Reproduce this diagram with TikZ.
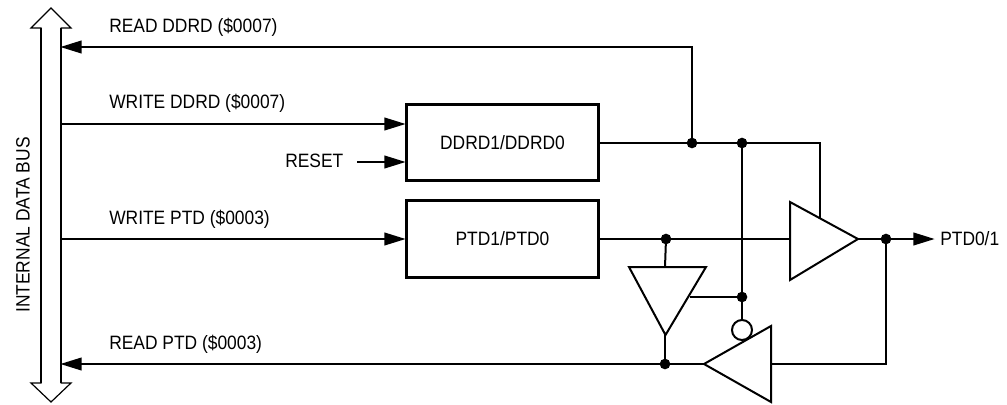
\documentclass[tikz,border=0pt]{standalone}
\usepackage{fontspec}
\setmainfont[FakeStretch=0.9]{Liberation Sans}
\usetikzlibrary{arrows.meta}
\tikzset{
  wire/.style={line width=1.5pt,line join=miter},
  sig/.style={wire,-{Triangle[length=16pt,width=9.5pt]},shorten >=-0.5pt},
  thick box/.style={draw,line width=2.2pt,minimum width=144.5pt,minimum height=57.3pt,inner sep=0pt,font=\lab},
  gate/.style={draw,line width=1.5pt,fill=white,line join=miter},
  dot/.style={circle,fill=black,inner sep=0pt,minimum size=8pt},
  lab/.style={inner sep=0pt,anchor=west,font=\lab},
}
\newcommand{\lab}{\fontsize{14.5}{17}\selectfont}
\begin{document}
\begin{tikzpicture}[x=0.75pt,y=-0.75pt]
\useasboundingbox (0,0) rectangle (1007,404);
% bus
\draw[line width=1.6pt] (41,28)--(41,383) (61,28)--(61,383);
\draw[line width=0.9pt,line join=miter] (41.5,28)--(31,28)--(51,8)--(71,28)--(60.5,28);
\draw[line width=0.9pt,line join=miter] (41.5,383)--(31,383)--(51,402)--(71,383)--(60.5,383);
\coordinate (busT1) at (61,47);
\coordinate (busT2) at (61,124);
\coordinate (busT3) at (61,239);
\coordinate (busT4) at (61,364);
\node[rotate=90,inner sep=0pt,font=\lab] (busl) at (23,225) {INTERNAL DATA BUS};
% boxes
\node[thick box] (ddrd) at (502.5,142.7) {DDRD1/DDRD0};
\node[thick box] (ptd) at (502.5,239) {PTD1/PTD0};
% dots
\node[dot] (d1) at (692,143) {};
\node[dot] (d2) at (742,143) {};
\node[dot] (d3) at (666,239) {};
\node[dot] (d4) at (886,239) {};
\node[dot] (d5) at (742,297) {};
\node[dot] (d6) at (665,364) {};
\coordinate (t1in) at (790,239);
\coordinate (t1out) at (857,239);
\coordinate (t1en) at (820,220);
\coordinate (t2in) at (771,364);
\coordinate (t2out) at (704,364);
\coordinate (t3in) at (665,267);
\coordinate (t3out) at (665,335);
\coordinate (t3en) at (690,297);
\coordinate (bub) at (742,320);
\coordinate (rst) at (357,162);
\coordinate (out) at (934,239);
\coordinate (corner1) at (820,143);
\coordinate (corner2) at (886,364);
\coordinate (wd) at (405,124);
\coordinate (rs) at (405,162);
\coordinate (wp) at (405,239);
% wires
\draw[sig] (d1.center)--(692,47)--(busT1);
\draw[sig] (busT2)--(wd);
\draw[sig] (rst)--(rs);
\draw[sig] (busT3)--(wp);
\draw[sig] (t2out)--(busT4);
\draw[wire] (ddrd.east|-d2)--(d2.center)--(corner1)--(t1en);
\draw[wire] (ptd.east|-d3)--(t1in);
\draw[wire] (d2.center)--(bub);
\draw[wire] (d3.center)--(t3in);
\draw[wire] (t3out)--(d6.center);
\draw[wire] (t3en)--(d5.center);
\draw[wire] (t1out)--(d4.center)--(corner2)--(t2in);
\draw[sig] (d4.center)--(out);
% gates
\draw[gate] (790,202)--(858,239)--(790,280)--cycle;
\draw[gate] (771,326)--(704,364)--(771,402)--cycle;
\draw[gate] (629,267)--(706,267)--(665.5,335)--cycle;
\draw[gate] (742,330) circle (10);
% labels
\node[lab] (l1) at (109,27) {READ DDRD (\$0007)};
\node[lab] (l2) at (109,103) {WRITE DDRD (\$0007)};
\node[lab] (l3) at (285,161) {RESET};
\node[lab] (l4) at (109,219) {WRITE PTD (\$0003)};
\node[lab] (l5) at (109,344) {READ PTD (\$0003)};
\node[lab] (l6) at (940,239) {PTD0/1};
\end{tikzpicture}
\end{document}
